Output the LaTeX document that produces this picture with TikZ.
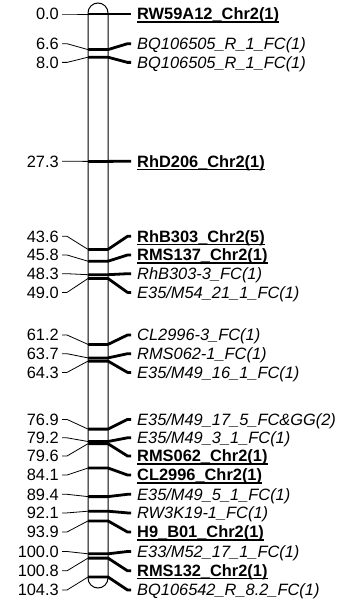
\documentclass[tikz,border=0pt]{standalone}
\usepackage{fontspec}
\setmainfont{Liberation Sans}
\tikzset{
  lab/.style={inner sep=0pt, text height=11.6pt, text depth=0pt, font=\fontsize{16.4}{19}\selectfont},
  numlab/.style={lab, anchor=east},
  boldlab/.style={lab, anchor=west, font=\fontsize{16.4}{19}\selectfont\bfseries},
  itlab/.style={lab, anchor=west, font=\fontsize{16.4}{19}\selectfont\itshape},
  leftconn/.style={line width=0.8pt, line join=round},
  mkline/.style={line width=2.8pt, line join=round},
  barline/.style={line width=1pt},
  uline/.style={line width=1.2pt}
}
\newcommand\MarkerRow[6]{%
  \coordinate (bl#1) at (88,-#3);
  \coordinate (br#1) at (108,-#3);
  \node[numlab] (p#1) at (59,-#4) {#2};
  \node[#6] (n#1) at (137,-#4) {#5};
  \draw[leftconn] ([xshift=3pt]p#1.east) -- ([xshift=8pt]p#1.east) -- (bl#1);
  \draw[mkline] (bl#1) -- (br#1) -- ([xshift=-9.5pt]n#1.west) -- ([xshift=-6pt]n#1.west);
}
\newcommand\UnderLab[1]{%
  \draw[uline] ([yshift=-2pt]n#1.south west) -- ([yshift=-2pt]n#1.south east);
}
\begin{document}
\begin{tikzpicture}[x=1pt,y=1pt]
\useasboundingbox (0,0) rectangle (344,-602);
% chromosome bar
\draw[barline] (88,-13) arc[start angle=180,end angle=0,radius=10] -- (108,-578)
  arc[start angle=0,end angle=-180,radius=10] -- cycle;
\MarkerRow{1}{0.0}{14.0}{14.0}{RW59A12\_Chr2(1)}{boldlab}
\MarkerRow{2}{6.6}{49.6}{43.7}{BQ106505\_R\_1\_FC(1)}{itlab}
\MarkerRow{3}{8.0}{57.2}{62.4}{BQ106505\_R\_1\_FC(1)}{itlab}
\MarkerRow{4}{27.3}{161.4}{161.2}{RhD206\_Chr2(1)}{boldlab}
\MarkerRow{5}{43.6}{249.4}{236.3}{RhB303\_Chr2(5)}{boldlab}
\MarkerRow{6}{45.8}{261.2}{255.0}{RMS137\_Chr2(1)}{boldlab}
\MarkerRow{7}{48.3}{274.7}{273.7}{RhB303-3\_FC(1)}{itlab}
\MarkerRow{8}{49.0}{278.5}{292.4}{E35/M54\_21\_1\_FC(1)}{itlab}
\MarkerRow{9}{61.2}{344.4}{335.0}{CL2996-3\_FC(1)}{itlab}
\MarkerRow{10}{63.7}{357.9}{353.7}{RMS062-1\_FC(1)}{itlab}
\MarkerRow{11}{64.3}{361.1}{372.4}{E35/M49\_16\_1\_FC(1)}{itlab}
\MarkerRow{12}{76.9}{429.1}{419.4}{E35/M49\_17\_5\_FC\&GG(2)}{itlab}
\MarkerRow{13}{79.2}{441.5}{437.8}{E35/M49\_3\_1\_FC(1)}{itlab}
\MarkerRow{14}{79.6}{443.7}{456.0}{RMS062\_Chr2(1)}{boldlab}
\MarkerRow{15}{84.1}{468.0}{475.0}{CL2996\_Chr2(1)}{boldlab}
\MarkerRow{16}{89.4}{496.6}{494.3}{E35/M49\_5\_1\_FC(1)}{itlab}
\MarkerRow{17}{92.1}{511.2}{512.9}{RW3K19-1\_FC(1)}{itlab}
\MarkerRow{18}{93.9}{520.9}{532.0}{H9\_B01\_Chr2(1)}{boldlab}
\MarkerRow{19}{100.0}{553.8}{551.5}{E33/M52\_17\_1\_FC(1)}{itlab}
\MarkerRow{20}{100.8}{558.1}{570.8}{RMS132\_Chr2(1)}{boldlab}
\MarkerRow{21}{104.3}{577.0}{590.0}{BQ106542\_R\_8.2\_FC(1)}{itlab}
\UnderLab{1}
\UnderLab{4}
\UnderLab{5}
\UnderLab{6}
\UnderLab{14}
\UnderLab{15}
\UnderLab{18}
\UnderLab{20}
\end{tikzpicture}
\end{document}
